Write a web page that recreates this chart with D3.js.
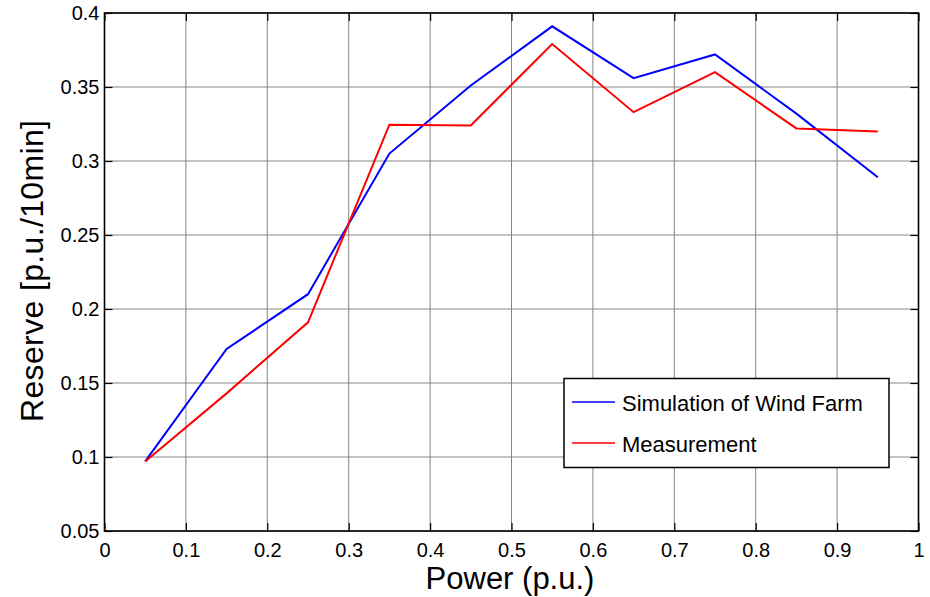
<!DOCTYPE html>
<html>
<head>
<meta charset="utf-8">
<script src="https://cdn.jsdelivr.net/npm/d3@7"></script>
<style>
  html, body { margin: 0; padding: 0; background: #fff; }
  svg { display: block; font-family: "Liberation Sans", Arial, sans-serif; }
</style>
</head>
<body>
<svg id="chart" width="930" height="597"></svg>
<script>
const powers = [0.05, 0.15, 0.25, 0.35, 0.45, 0.55, 0.65, 0.75, 0.85, 0.95];
const simulation = [0.097, 0.173, 0.210, 0.305, 0.351, 0.391, 0.356, 0.372, 0.332, 0.289];
const measurement = [0.097, 0.143, 0.191, 0.3245, 0.324, 0.379, 0.333, 0.360, 0.322, 0.320];
const xTicks = [0, 0.1, 0.2, 0.3, 0.4, 0.5, 0.6, 0.7, 0.8, 0.9, 1];
const yTicks = [0.05, 0.1, 0.15, 0.2, 0.25, 0.3, 0.35, 0.4];
const seriesNames = ["Simulation of Wind Farm", "Measurement"];
const seriesColors = ["#0000ff", "#ff0000"];

const svg = d3.select("#chart");
const L = 104.5, R = 918.5, T = 13, B = 531;
const x = d3.scaleLinear().domain([0, 1]).range([L, R]);
const y = d3.scaleLinear().domain([0.05, 0.4]).range([B, T]);

// grid
const grid = svg.append("g").attr("stroke", "#858585").attr("stroke-width", 1);
xTicks.forEach(t => grid.append("line").attr("x1", x(t)).attr("x2", x(t)).attr("y1", T).attr("y2", B));
yTicks.forEach(t => grid.append("line").attr("x1", L).attr("x2", R).attr("y1", y(t)).attr("y2", y(t)));

// axes with inward ticks
const tickLen = 8;
const xAxisB = d3.axisBottom(x).tickValues(xTicks).tickSizeInner(-tickLen).tickSizeOuter(0)
  .tickPadding(12).tickFormat(d => d3.format("~g")(d));
const xAxisT = d3.axisTop(x).tickValues(xTicks).tickSizeInner(-tickLen).tickSizeOuter(0).tickFormat("");
const yAxisL = d3.axisLeft(y).tickValues(yTicks).tickSizeInner(-tickLen).tickSizeOuter(0)
  .tickPadding(5).tickFormat(d => d3.format("~g")(d));
const yAxisR = d3.axisRight(y).tickValues(yTicks).tickSizeInner(-tickLen).tickSizeOuter(0).tickFormat("");

function style(g) {
  g.select(".domain").remove();
  g.selectAll(".tick line").attr("stroke", "#000").attr("stroke-width", 1.2);
  g.selectAll("text").attr("fill", "#000").style("font-size", "20px")
    .style("font-family", "'Liberation Sans', Arial, sans-serif");
}
svg.append("g").attr("transform", `translate(0,${B})`).call(xAxisB).call(style)
  .selectAll("text").attr("dy", "0.71em");
svg.append("g").attr("transform", `translate(0,${T})`).call(xAxisT).call(style);
svg.append("g").attr("transform", `translate(${L},0)`).call(yAxisL).call(style);
svg.append("g").attr("transform", `translate(${R},0)`).call(yAxisR).call(style);

// lines
const line = d3.line().x((d, i) => x(powers[i])).y(d => y(d));
[simulation, measurement].forEach((s, k) => {
  svg.append("path").datum(s).attr("d", line).attr("fill", "none")
    .attr("stroke", seriesColors[k]).attr("stroke-width", 2).attr("stroke-linejoin", "miter");
});

// box
svg.append("rect").attr("x", L).attr("y", T).attr("width", R - L).attr("height", B - T)
  .attr("fill", "none").attr("stroke", "#000").attr("stroke-width", 1.6);

// legend
const lg = svg.append("g");
lg.append("rect").attr("x", 564).attr("y", 378.5).attr("width", 325).attr("height", 89)
  .attr("fill", "#fff").attr("stroke", "#000").attr("stroke-width", 1.5);
seriesNames.forEach((n, i) => {
  const yy = 402 + i * 41;
  lg.append("line").attr("x1", 572).attr("x2", 615).attr("y1", yy).attr("y2", yy)
    .attr("stroke", seriesColors[i]).attr("stroke-width", 1.5);
  lg.append("text").attr("x", 622).attr("y", yy + 8.5).text(n)
    .style("font-size", "22px").attr("fill", "#000");
});

// axis titles
svg.append("text").attr("x", 510).attr("y", 589).attr("text-anchor", "middle")
  .style("font-size", "31px").text("Power (p.u.)");
svg.append("text").attr("transform", "translate(43,271) rotate(-90)").attr("text-anchor", "middle")
  .attr("textLength", 302).attr("lengthAdjust", "spacing")
  .style("font-size", "32px").text("Reserve [p.u./10min]");
</script>
</body>
</html>
